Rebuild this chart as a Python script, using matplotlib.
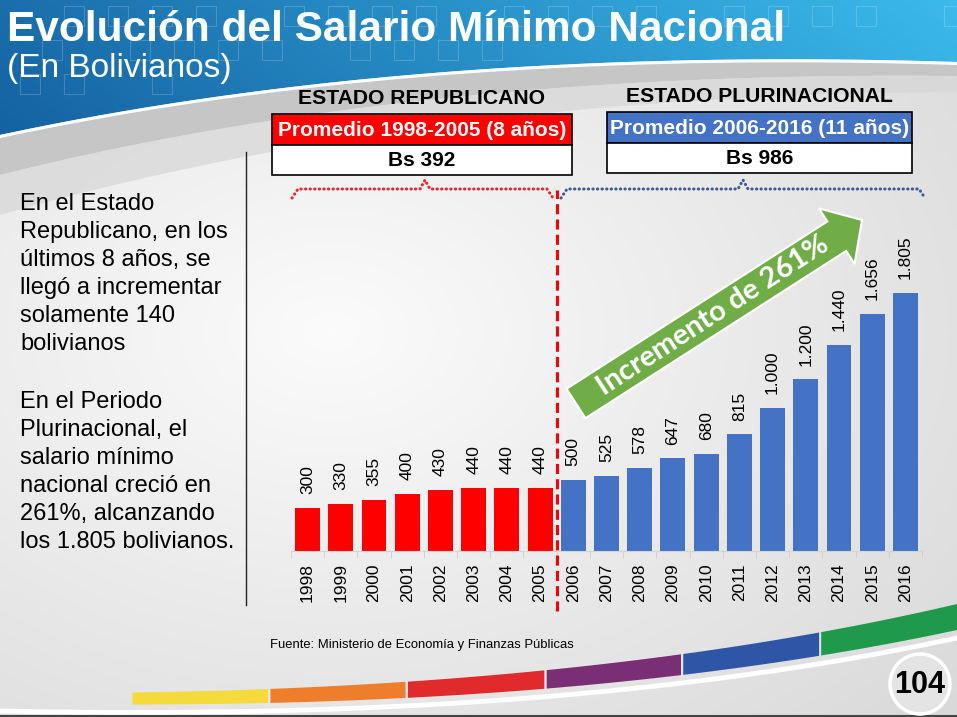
import numpy as np
import matplotlib.pyplot as plt
from matplotlib.patches import Rectangle, Polygon, Circle, FancyArrow

plt.rcParams['font.family'] = ['Liberation Sans', 'DejaVu Sans']

# datos del grafico
years = ['1998', '1999', '2000', '2001', '2002', '2003', '2004', '2005', '2006', '2007',
         '2008', '2009', '2010', '2011', '2012', '2013', '2014', '2015', '2016']
salario = [300, 330, 355, 400, 430, 440, 440, 440, 500, 525,
           578, 647, 680, 815, 1000, 1200, 1440, 1656, 1805]
periodos = ['ESTADO REPUBLICANO', 'ESTADO PLURINACIONAL']

rojo = '#ff0000'
azul = '#4472c4'
verde = '#70ad47'

split = years.index('2006')
n = len(years)
prom_rep = int(round(np.mean(salario[:split])))
prom_plu = int(round(np.mean(salario[split:])))
incremento = int(round((salario[-1] / salario[split] - 1) * 100))


def fmt(v):
    return f'{v:,}'.replace(',', '.')


def bez(p0, p1, p2, num=200):
    t = np.linspace(0, 1, num)[:, None]
    return (1 - t) ** 2 * np.array(p0) + 2 * t * (1 - t) * np.array(p1) + t ** 2 * np.array(p2)


W, H = 957, 717
fig = plt.figure(figsize=(W / 100, H / 100), dpi=100)

# ---------------- fondo ----------------
bg = fig.add_axes([0, 0, 1, 1], zorder=0)
bg.set_xlim(0, W)
bg.set_ylim(H, 0)
bg.axis('off')

yy, xx = np.mgrid[0:H:3, 0:W:3]
d = np.sqrt(((xx - 330) / 750) ** 2 + ((yy - 330) / 520) ** 2)
g = np.clip(0.985 - 0.12 * d, 0.84, 0.985)
bg.imshow(np.dstack([g, g, g]), extent=[0, W, H, 0], aspect='auto', interpolation='bilinear', zorder=0)

# franja gris bajo la cabecera
edge = bez((0, 135), (420, 45), (W, 62))
mid = bez((0, 175), (420, 70), (W, 76))
low = bez((0, 215), (420, 95), (W, 92))
bg.add_patch(Polygon(np.vstack([edge, mid[::-1]]), closed=True, fc='#c6c6c6', ec='none', zorder=1))
bg.add_patch(Polygon(np.vstack([mid, low[::-1]]), closed=True, fc='#d6d6d6', ec='none', alpha=0.7, zorder=1))

# cabecera azul con degradado
head = Polygon(np.vstack([[[0, 0]], edge, [[W, 0]]]), closed=True, fc='none', ec='none')
bg.add_patch(head)
gx = np.linspace(0, 1, 300)[None, :]
gy = np.linspace(0, 1, 60)[:, None]
c0 = np.array([0.08, 0.38, 0.63])
c1 = np.array([0.23, 0.73, 0.92])
mix = np.clip(gx * 0.85 + (1 - gy) * 0.15, 0, 1)[..., None]
grad = c0 * (1 - mix) + c1 * mix
im = bg.imshow(grad, extent=[0, W, 140, 0], aspect='auto', interpolation='bilinear', zorder=2)
im.set_clip_path(head)
bg.plot(edge[:, 0], edge[:, 1] + 1.5, color='white', lw=2.2, zorder=3)

# cuadritos decorativos en la cabecera
for row, y0 in enumerate([6, 40, 74, 108]):
    for k in range(22):
        x0 = 20 + k * 44 + (row % 2) * 22
        yb = np.interp(x0 + 20, edge[:, 0], edge[:, 1])
        if y0 + 22 < yb - 4 and (k * 7 + row * 3) % 5 != 0:
            bg.add_patch(Rectangle((x0, y0), 20, 20, fill=False, ec='white', lw=0.8,
                                   alpha=0.18, zorder=3))

bg.text(7, 41, 'Evolución del Salario Mínimo Nacional', color='white', fontsize=30.5,
        fontweight='bold', va='baseline', ha='left', zorder=4)
bg.text(7, 77, '(En Bolivianos)', color='white', fontsize=24, va='baseline', ha='left', zorder=4)

# banda de colores inferior
t = np.linspace(0, 1, 400)
band = bez((0, 698), (560, 706), (W, 617), num=400)
thick = 10 + 16 * t
colores_banda = ['#f5da3b', '#ee7e2c', '#e12a2b', '#7a2e73', '#2f56a6', '#1f9a4c']
limites = [130, 270, 407, 545, 682, 820, W + 1]
for j, c in enumerate(colores_banda):
    m = (band[:, 0] >= limites[j]) & (band[:, 0] <= limites[j + 1])
    bx = band[m, 0]
    top = band[m, 1] - thick[m] / 2
    bot = band[m, 1] + thick[m] / 2
    bg.add_patch(Polygon(np.vstack([np.c_[bx, top], np.c_[bx, bot][::-1]]), closed=True,
                         fc=c, ec='none', zorder=3))
bg.plot(band[:, 0], band[:, 1] + thick / 2 + 8, color='white', lw=3.5, zorder=3)
bg.plot([0, W], [716, 716], color='#444444', lw=1.5, zorder=3)

bg.add_patch(Circle((920, 684), 30, fc='#e4e4e4', ec='white', lw=2.5, zorder=4))
bg.text(920, 685, '104', fontsize=22, fontweight='bold', ha='center', va='center', zorder=5)

bg.text(270, 645, 'Fuente: Ministerio de Economía y Finanzas Públicas', fontsize=9.4,
        ha='left', va='center', zorder=4)

# ---------------- grafico de barras ----------------
ax = fig.add_axes([291 / W, (H - 551) / H, 631 / W, 286 / H], zorder=2)
ax.patch.set_alpha(0)
colores = [rojo if i < split else azul for i in range(n)]
ax.bar(range(n), salario, width=0.75, color=colores, zorder=2)
for i, v in enumerate(salario):
    ax.annotate(fmt(v), (i, v), xytext=(0, 10), textcoords='offset points', rotation=90,
                ha='center', va='bottom', fontsize=12.5)
ax.set_xlim(-0.5, n - 0.5)
ax.set_ylim(0, 2000)
ax.set_xticks(range(n), years, rotation=90, fontsize=12.5)
ax.set_xticks(np.arange(-0.5, n, 1), minor=True)
ax.tick_params(axis='x', which='major', length=0, pad=9)
ax.tick_params(axis='x', which='minor', length=5, color='#cfcfcf')
ax.set_yticks([])
for s in ['top', 'left', 'right']:
    ax.spines[s].set_visible(False)
ax.spines['bottom'].set_color('#d4d4d4')
ax.axvline(split - 0.5, ymin=-0.21, ymax=1.262, clip_on=False, color=rojo, lw=2.2,
           linestyle=(0, (3.3, 1.7)), zorder=3)

# ---------------- anotaciones encima ----------------
ov = fig.add_axes([0, 0, 1, 1], zorder=5)
ov.set_xlim(0, W)
ov.set_ylim(H, 0)
ov.axis('off')

ov.plot([246, 246], [152, 605], color='#222222', lw=1)

cajas = [(272, 300, 98, rojo, f'Promedio {years[0]}-{years[split - 1]} ({split} años)', prom_rep),
         (607, 305, 96, azul, f'Promedio {years[split]}-{years[-1]} ({n - split} años)', prom_plu)]
for (x0, w, ytit, c, txt, prom), per in zip(cajas, periodos):
    cx = x0 + w / 2
    ov.text(cx, ytit, per, fontsize=15.2, fontweight='bold', ha='center', va='center')
    ov.add_patch(Rectangle((x0, ytit + 16), w, 31, fc=c, ec='black', lw=1.2))
    ov.add_patch(Rectangle((x0, ytit + 47), w, 30, fc='white', ec='black', lw=1.2))
    ov.text(cx, ytit + 32, txt, fontsize=15, fontweight='bold', color='white', ha='center', va='center')
    ov.text(cx, ytit + 62.5, f'Bs {prom}', fontsize=15, fontweight='bold', ha='center', va='center')

# llaves punteadas
for (xa, xp, xb, c) in [(292, 425, 553, '#e8262b'), (561, 743, 925, '#3c5a99')]:
    bx = [xa, xa + 6, xp - 5, xp, xp + 5, xb - 6, xb]
    by = [198, 189, 189, 180, 189, 189, 198]
    ov.plot(bx, by, color=c, lw=2.2, linestyle=(0, (0.1, 1.4)), dash_capstyle='round')

# flecha verde
tail = np.array([576, 403.5])
tip = np.array([862, 220])
ov.add_patch(FancyArrow(tail[0], tail[1], tip[0] - tail[0], tip[1] - tail[1], width=35,
                        head_width=66, head_length=30, length_includes_head=True,
                        fc=verde, ec='white', lw=1.5))
ov.text(713, 316, f'Incremento de {incremento}%', rotation=33, fontsize=21, fontweight='bold',
        color='white', ha='center', va='center', family=['Lato', 'DejaVu Sans'],
        rotation_mode='anchor')

texto1 = 'En el Estado\nRepublicano, en los\núltimos 8 años, se\nllegó a incrementar\nsolamente 140\nbolivianos'
texto2 = 'En el Periodo\nPlurinacional, el\nsalario mínimo\nnacional creció en\n261%, alcanzando\nlos 1.805 bolivianos.'
ov.text(20, 193, texto1, fontsize=17, ha='left', va='top', linespacing=1.35)
ov.text(20, 391, texto2, fontsize=17, ha='left', va='top', linespacing=1.35)

fig.savefig('out.png', dpi=100)
